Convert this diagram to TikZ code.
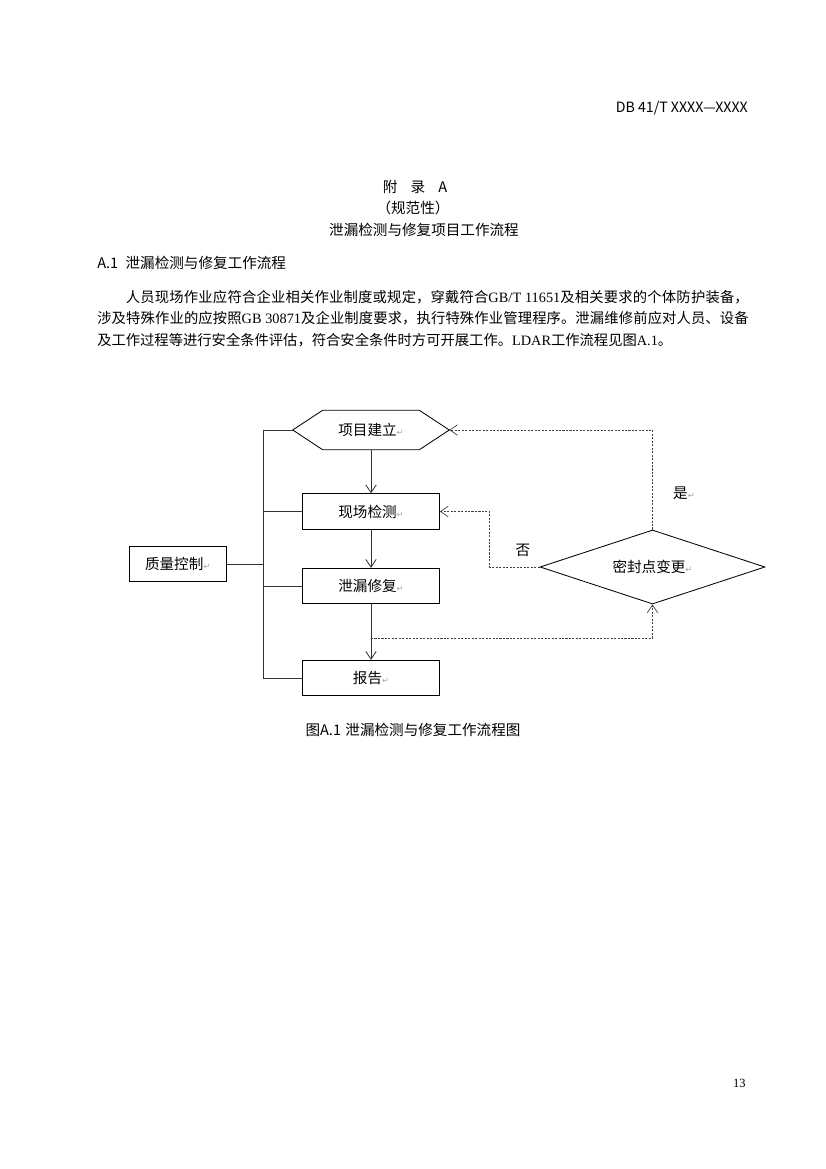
\documentclass[tikz,border=0pt]{standalone}
\usepackage{fontspec}
\setmainfont{Liberation Serif}
\newfontfamily\cjk{Noto Sans CJK SC}
\newfontfamily\symfont{DejaVu Sans}
\usetikzlibrary{arrows.meta,shapes.geometric,calc}
\XeTeXlinebreaklocale "zh"
\XeTeXlinebreakskip=0pt plus 1pt
\newcommand{\retmark}{{\color{gray!70}\symfont\fontsize{6}{6}\selectfont ↵}}
\tikzset{
  stepbox/.style={draw, line width=0.6pt, minimum width=98.6pt, minimum height=25.6pt,
    inner sep=0pt, font=\cjk\fontsize{10.5}{12}\selectfont},
  flow/.style={line width=0.6pt, black!80, -{Straight Barb[length=5.5pt,width=7.5pt]}},
  dashflow/.style={line width=0.5pt, black!75, dash pattern=on 1.5pt off 1pt,
    -{Straight Barb[length=5.5pt,width=7.5pt]}},
  link/.style={line width=0.6pt, black!80},
}
\begin{document}
\begin{tikzpicture}[x=0.72pt,y=-0.72pt]
  \useasboundingbox (0,0) rectangle (826,1169);
  % page text
  \node[anchor=base east, inner sep=0pt, font=\cjk\fontsize{10.2}{12}\selectfont] (hdr) at (748,112) {DB 41/T XXXX—XXXX};
  \node[anchor=base, inner sep=0pt, font=\cjk\fontsize{10.5}{12}\selectfont] (annex) at (415,192) {附\hspace{0.9em}录\hspace{0.9em}A};
  \node[anchor=base, inner sep=0pt, font=\cjk\fontsize{10.5}{12}\selectfont] (kind) at (413,213) {（规范性）};
  \node[anchor=base, inner sep=0pt, font=\cjk\fontsize{10.5}{12}\selectfont] (title) at (424,235) {泄漏检测与修复项目工作流程};
  \node[anchor=base west, inner sep=0pt, font=\cjk\fontsize{10.5}{12}\selectfont] (sec) at (97,268) {A.1\hspace{0.5em}泄漏检测与修复工作流程};
  \node[anchor=base west, inner sep=0pt, text width=469pt, align=justify,
        font=\cjk\fontsize{10.3}{15.5}\selectfont] (body) at (97,302)
    {\hspace*{2em}人员现场作业应符合企业相关作业制度或规定，穿戴符合{\rmfamily GB/T 11651}及相关要求的个体防护装备，\linebreak
     涉及特殊作业的应按照{\rmfamily GB 30871}及企业制度要求，执行特殊作业管理程序。泄漏维修前应对人员、设备\linebreak
     及工作过程等进行安全条件评估，符合安全条件时方可开展工作。{\rmfamily LDAR}工作流程见图{\rmfamily A.1}。};

  % flow chart
  \node[minimum width=112.3pt, minimum height=28.1pt, inner sep=0pt,
        font=\cjk\fontsize{10.5}{12}\selectfont] (setup) at (371,430) {项目建立\retmark};
  \draw[line width=0.6pt] (setup.west) -- ($(setup.north west)+(30,0)$) -- ($(setup.north east)+(-30,0)$)
        -- (setup.east) -- ($(setup.south east)+(-30,0)$) -- ($(setup.south west)+(30,0)$) -- cycle;
  \node[stepbox] (survey) at (371,511.5) {现场检测\retmark};
  \node[stepbox] (repair) at (371,586) {泄漏修复\retmark};
  \node[stepbox] (report) at (371,678) {报告\retmark};
  \node[stepbox, minimum width=69.8pt, minimum height=25.2pt] (qc) at (177.7,564) {质量控制\retmark};
  \node[draw, diamond, aspect=3, line width=0.6pt, inner sep=0pt, minimum width=162pt, minimum height=53.3pt,
        font=\cjk\fontsize{10.5}{12}\selectfont] (change) at (652.5,567) {密封点变更\retmark};
  \node[font=\cjk\fontsize{10.5}{12}\selectfont] (yes) at (684,493) {是\retmark};
  \node[font=\cjk\fontsize{10.5}{12}\selectfont] (no) at (523,550) {否};
  \coordinate (bustop) at (263,430);
  \coordinate (tap) at (371,638);

  \draw[link] (setup.west) -- (bustop) |- (report.west);
  \draw[link] (survey.west) -- (survey.west -| bustop);
  \draw[link] (repair.west) -- (repair.west -| bustop);
  \draw[link] (qc.east) -- (qc.east -| bustop);
  \draw[flow] (setup.south) -- (survey.north);
  \draw[flow] (survey.south) -- (repair.north);
  \draw[flow] (repair.south) -- (report.north);
  \draw[dashflow] (tap) -| (change.south);
  \draw[dashflow] (change.north) |- (setup.east);
  \draw[dashflow] (change.west) -- ++(-50,0) |- (survey.east);

  \node[anchor=base, inner sep=0pt, font=\cjk\fontsize{10.5}{12}\selectfont] (caption) at (413,735) {图A.1\hspace{0.3em}泄漏检测与修复工作流程图};
  \node[anchor=base east, inner sep=0pt, font=\fontsize{9}{10}\selectfont] (pageno) at (746,1087) {13};
\end{tikzpicture}
\end{document}
